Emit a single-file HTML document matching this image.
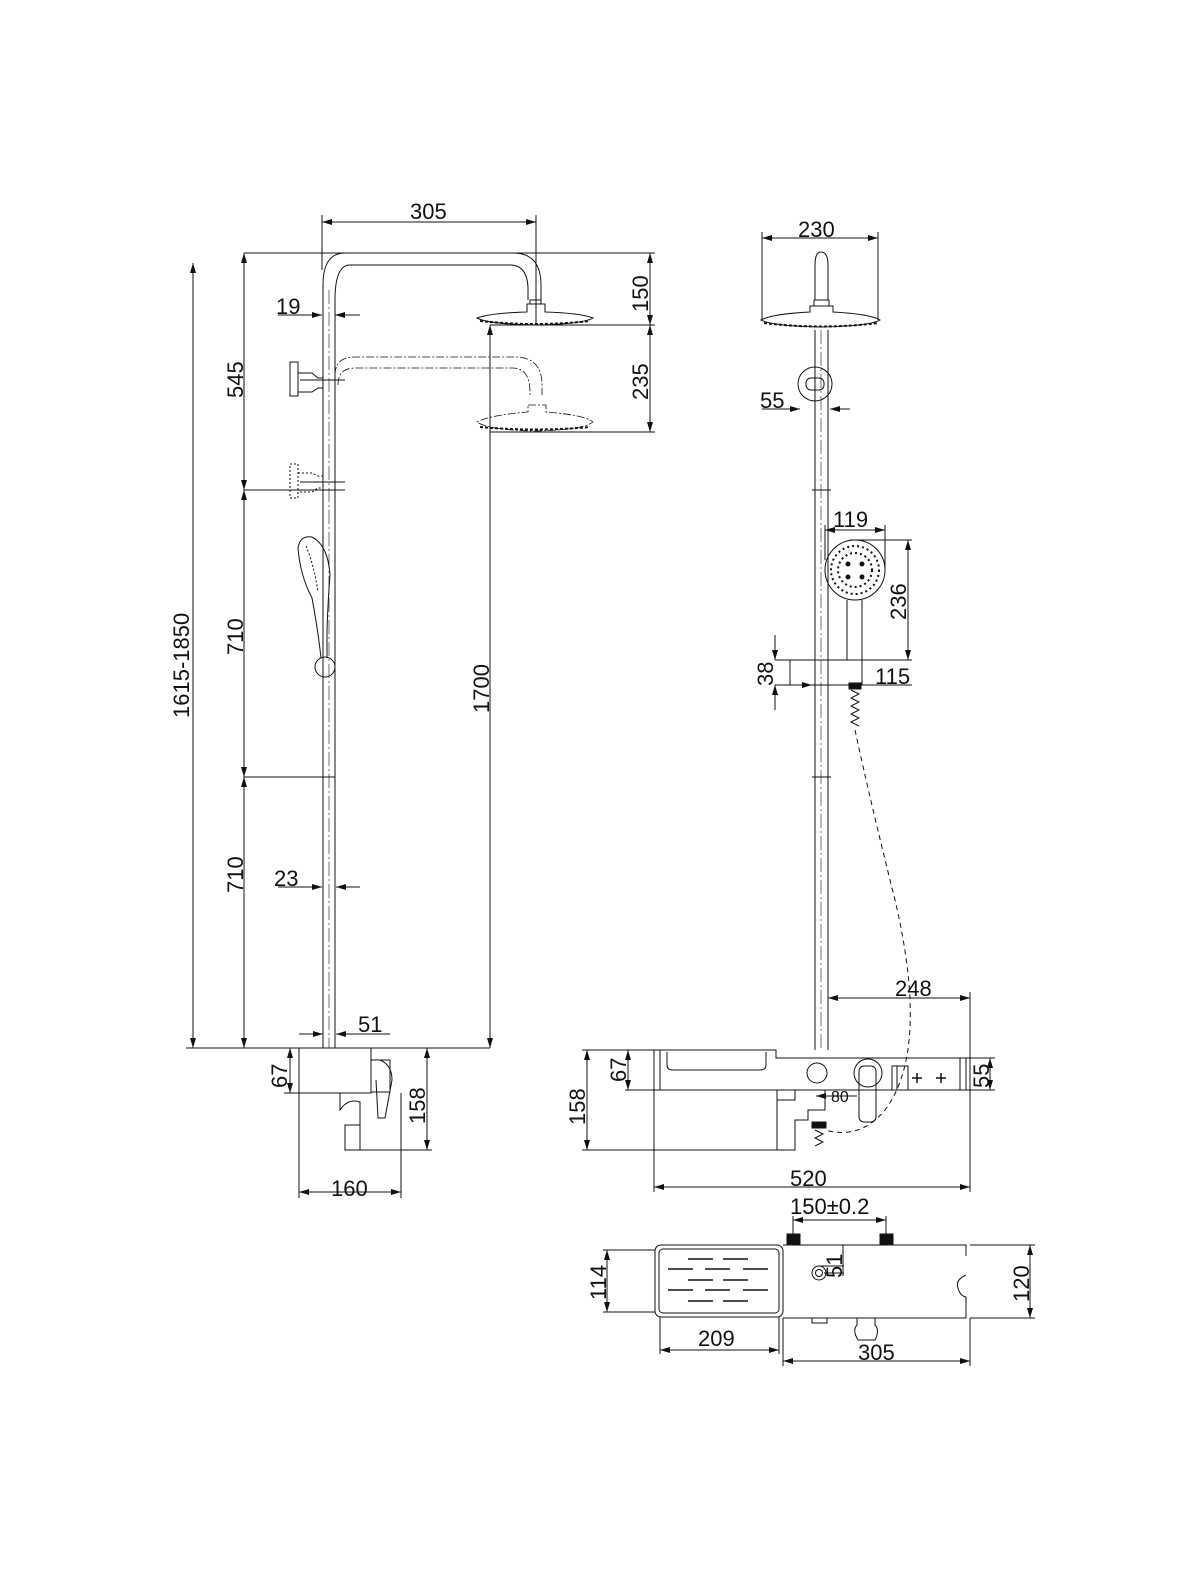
<!DOCTYPE html>
<html><head><meta charset="utf-8"><style>
html,body{margin:0;padding:0;background:#fff}
svg{display:block}
text{font-family:"Liberation Sans",sans-serif;font-size:22px;fill:#111}
</style></head><body>
<svg width="1200" height="1570" viewBox="0 0 1200 1570" xmlns="http://www.w3.org/2000/svg">
<defs>
<marker id="a" viewBox="0 0 10 6" refX="10" refY="3" markerWidth="10" markerHeight="6" orient="auto-start-reverse" markerUnits="userSpaceOnUse"><path d="M0,0L10,3L0,6z" fill="#111"/></marker>
</defs>
<g stroke="#111" stroke-width="1" fill="none">
<line x1="322" y1="222" x2="536" y2="222" marker-start="url(#a)" marker-end="url(#a)"/>
<line x1="322" y1="215" x2="322" y2="270"/>
<line x1="536" y1="215" x2="536" y2="325"/>
<line x1="244" y1="253" x2="655" y2="253"/>
<line x1="650" y1="253" x2="650" y2="325" marker-start="url(#a)" marker-end="url(#a)"/>
<line x1="650" y1="325" x2="650" y2="432" marker-start="url(#a)" marker-end="url(#a)"/>
<line x1="490" y1="325" x2="655" y2="325"/>
<line x1="490" y1="432" x2="655" y2="432"/>
<line x1="193" y1="263" x2="193" y2="1048" marker-start="url(#a)" marker-end="url(#a)"/>
<line x1="186" y1="1048" x2="490" y2="1048"/>
<line x1="244" y1="253" x2="244" y2="490" marker-start="url(#a)" marker-end="url(#a)"/>
<line x1="244" y1="490" x2="244" y2="777" marker-start="url(#a)" marker-end="url(#a)"/>
<line x1="244" y1="777" x2="244" y2="1048" marker-start="url(#a)" marker-end="url(#a)"/>
<line x1="244" y1="490" x2="345" y2="490"/>
<line x1="244" y1="777" x2="335" y2="777"/>
<line x1="490" y1="325" x2="490" y2="1048" marker-start="url(#a)" marker-end="url(#a)"/>
<line x1="278" y1="315" x2="322" y2="315" marker-end="url(#a)"/>
<line x1="360" y1="315" x2="335" y2="315" marker-end="url(#a)"/>
<line x1="278" y1="887" x2="322" y2="887" marker-end="url(#a)"/>
<line x1="360" y1="887" x2="336" y2="887" marker-end="url(#a)"/>
<line x1="299" y1="1034" x2="323" y2="1034" marker-end="url(#a)"/>
<line x1="390" y1="1034" x2="336" y2="1034" marker-end="url(#a)"/>
<path d="M323 1048V285Q323 253 345 253H513Q541 253 541 285V300"/>
<path d="M335 1048V300Q335 265 350 265H510Q528 265 528 290V300"/>
<path d="M329 290V1048" stroke-dasharray="14 3 2 3" stroke-width="0.6"/>
<rect x="530" y="300" width="11" height="4"/>
<path d="M527 304H545V312Q580 313 593 318Q583 324 535 325Q488 324 477 318Q490 313 527 312Z"/>
<path d="M480 321Q535 327 590 321" stroke-width="2" stroke-dasharray="3 2"/>
<g stroke-dasharray="8 2 2 2" stroke-width="0.8">
<path d="M335 375Q335 357 355 357H515Q542 357 542 385V395"/>
<path d="M338 385Q338 368 355 368H512Q530 368 530 392V395"/>
<path d="M528 405H546V412Q585 415 593 422Q583 430 535 431Q488 430 477 422Q490 415 528 412Z"/>
</g>
<path d="M480 427Q535 432 590 427" stroke-width="2" stroke-dasharray="3 2"/>
<rect x="290" y="362" width="8" height="34"/>
<path d="M298 373H312L318 378H323V388H318L312 392H298"/>
<line x1="300" y1="380" x2="345" y2="380"/>
<g stroke-dasharray="2 2"><rect x="290" y="464" width="8" height="34"/><path d="M298 473H312L318 476H323V488H318L312 492H298"/></g>
<line x1="300" y1="482" x2="345" y2="482"/>
<path d="M312 537Q300 535 298 548Q300 575 312 598Q318 630 321 658"/>
<path d="M312 537Q328 545 330 575Q328 600 327 630V658"/>
<path d="M306 546Q314 565 318 592" stroke-dasharray="2 2"/>
<circle cx="325" cy="667" r="10"/>
<rect x="299" y="1048" width="72" height="45"/>
<path d="M371 1060H390V1092H371"/>
<path d="M380 1060Q392 1065 392 1080L385 1118H378L376 1080"/>
<path d="M340 1093V1110Q348 1098 360 1102V1125H345V1150H360V1125"/>
<line x1="299" y1="1093" x2="299" y2="1198"/>
<line x1="401" y1="1093" x2="401" y2="1198"/>
<line x1="299" y1="1192" x2="401" y2="1192" marker-start="url(#a)" marker-end="url(#a)"/>
<line x1="390" y1="1048" x2="432" y2="1048"/>
<line x1="345" y1="1150" x2="432" y2="1150"/>
<line x1="427" y1="1048" x2="427" y2="1150" marker-start="url(#a)" marker-end="url(#a)"/>
<line x1="290" y1="1048" x2="290" y2="1093" marker-start="url(#a)" marker-end="url(#a)"/>
<line x1="284" y1="1093" x2="299" y2="1093"/>

<line x1="762" y1="238" x2="878" y2="238" marker-start="url(#a)" marker-end="url(#a)"/>
<line x1="762" y1="232" x2="762" y2="320"/>
<line x1="878" y1="232" x2="878" y2="320"/>
<path d="M815 300V265Q815 252 821 252Q828 252 828 265V300"/>
<rect x="814" y="300" width="15" height="6"/>
<path d="M810 306H833V312Q870 314 880 320Q870 326 821 327Q772 326 761 320Q772 314 810 312Z"/>
<path d="M764 323Q821 330 878 323" stroke-width="2" stroke-dasharray="3 2"/>
<path d="M815 330V1050M828 330V1050"/>
<line x1="821" y1="330" x2="821" y2="1050" stroke-dasharray="14 3 2 3" stroke-width="0.6"/>
<line x1="812" y1="490" x2="831" y2="490"/>
<line x1="812" y1="777" x2="831" y2="777"/>
<circle cx="815" cy="384" r="17"/>
<rect x="806" y="378" width="18" height="12" rx="5"/>
<line x1="762" y1="409" x2="800" y2="409" marker-end="url(#a)"/>
<line x1="850" y1="409" x2="830" y2="409" marker-end="url(#a)"/>
<line x1="825" y1="530" x2="885" y2="530" marker-start="url(#a)" marker-end="url(#a)"/>
<line x1="825" y1="525" x2="825" y2="560"/>
<line x1="885" y1="525" x2="885" y2="570"/>
<line x1="850" y1="540" x2="912" y2="540"/>
<line x1="860" y1="660" x2="912" y2="660"/>
<line x1="908" y1="540" x2="908" y2="660" marker-start="url(#a)" marker-end="url(#a)"/>
<circle cx="855" cy="570" r="30"/>
<g fill="#111" stroke="none">
<circle cx="848" cy="564" r="2.5"/><circle cx="862" cy="564" r="2.5"/><circle cx="848" cy="577" r="2.5"/><circle cx="862" cy="577" r="2.5"/>
</g>
<circle cx="855" cy="570" r="17" stroke-dasharray="2 3" stroke-width="2"/>
<circle cx="855" cy="570" r="24" stroke-dasharray="2 3" stroke-width="2"/>
<path d="M847 600V660H862V600"/>
<path d="M790 660H862V685H790Z"/>
<line x1="775" y1="660" x2="790" y2="660"/>
<line x1="775" y1="685" x2="790" y2="685"/>
<line x1="775" y1="635" x2="775" y2="660" marker-end="url(#a)"/>
<line x1="775" y1="710" x2="775" y2="685" marker-end="url(#a)"/>
<line x1="862" y1="685" x2="912" y2="685"/>
<line x1="800" y1="685" x2="812" y2="685" marker-end="url(#a)"/>
<rect x="849" y="683" width="12" height="6" fill="#111"/>
<path d="M851 690L859 694L851 698L859 702L851 706L859 710L851 714L859 718L851 722L859 726"/>
<path d="M855 730Q870 800 895 900Q930 1050 885 1110Q860 1140 825 1130" stroke-dasharray="5 4"/>
<line x1="828" y1="998" x2="970" y2="998" marker-start="url(#a)" marker-end="url(#a)"/>
<line x1="970" y1="992" x2="970" y2="1192"/>
<path d="M654 1050H776V1058H966V1090H654Z"/>
<line x1="660" y1="1050" x2="660" y2="1090"/>
<path d="M667 1052V1065Q667 1070 673 1070H760Q766 1070 766 1065V1052"/>
<circle cx="817" cy="1073" r="10"/>
<circle cx="868" cy="1073" r="14"/>
<rect x="859" y="1066" width="17" height="56" rx="5"/>
<rect x="892" y="1066" width="16" height="24"/>
<line x1="897" y1="1066" x2="897" y2="1090"/>
<g stroke-width="1.5"><path d="M912 1078h10M917 1073v10M936 1078h10M941 1073v10"/></g>
<line x1="960" y1="1058" x2="960" y2="1090"/>
<path d="M777 1090V1100H795V1090M777 1100V1150H795V1120H808V1110H825V1090"/>
<rect x="812" y="1122" width="14" height="6" fill="#111"/>
<path d="M815 1130L823 1134L815 1138L823 1142L815 1146"/>
<line x1="816" y1="1096" x2="857" y2="1096" marker-start="url(#a)"/>
<line x1="654" y1="1090" x2="654" y2="1192"/>
<line x1="654" y1="1187" x2="970" y2="1187" marker-start="url(#a)" marker-end="url(#a)"/>
<line x1="582" y1="1050" x2="654" y2="1050"/>
<line x1="582" y1="1150" x2="777" y2="1150"/>
<line x1="587" y1="1050" x2="587" y2="1150" marker-start="url(#a)" marker-end="url(#a)"/>
<line x1="625" y1="1090" x2="654" y2="1090"/>
<line x1="628" y1="1050" x2="628" y2="1090" marker-start="url(#a)" marker-end="url(#a)"/>
<line x1="966" y1="1058" x2="995" y2="1058"/>
<line x1="966" y1="1090" x2="995" y2="1090"/>
<line x1="990" y1="1058" x2="990" y2="1090" marker-start="url(#a)" marker-end="url(#a)"/>
<line x1="793" y1="1220" x2="886" y2="1220" marker-start="url(#a)" marker-end="url(#a)"/>
<line x1="793" y1="1216" x2="793" y2="1234"/>
<line x1="886" y1="1216" x2="886" y2="1234"/>
<rect x="787" y="1234" width="13" height="11" fill="#111"/>
<rect x="880" y="1234" width="13" height="11" fill="#111"/>
<rect x="655" y="1245" width="128" height="72" rx="6"/>
<rect x="659" y="1249" width="120" height="64" rx="4"/>
<g stroke-width="1.5">
<path d="M688 1259h25M723 1259h25M668 1269h25M705 1269h25M743 1269h25M688 1280h25M723 1280h25M668 1290h25M705 1290h25M743 1290h25M688 1301h25M723 1301h25"/>
</g>
<path d="M783 1245H966V1256M966 1275Q955 1280 958 1288Q960 1296 966 1297V1318H783"/>
<line x1="970" y1="1245" x2="1035" y2="1245"/>
<line x1="970" y1="1318" x2="1035" y2="1318"/>
<line x1="1030" y1="1245" x2="1030" y2="1318" marker-start="url(#a)" marker-end="url(#a)"/>
<circle cx="819" cy="1273" r="7"/><circle cx="819" cy="1273" r="3.5"/>
<line x1="819" y1="1266" x2="844" y2="1266"/>
<line x1="824" y1="1273" x2="844" y2="1273"/>
<line x1="843" y1="1245" x2="843" y2="1276"/>
<line x1="603" y1="1250" x2="655" y2="1250"/>
<line x1="603" y1="1312" x2="655" y2="1312"/>
<line x1="607" y1="1250" x2="607" y2="1312" marker-start="url(#a)" marker-end="url(#a)"/>
<rect x="812" y="1318" width="15" height="5"/>
<path d="M857 1318V1325Q852 1330 858 1340H875Q880 1330 875 1325V1318"/>
<line x1="660" y1="1317" x2="660" y2="1354"/>
<line x1="779" y1="1317" x2="779" y2="1354"/>
<line x1="660" y1="1350" x2="779" y2="1350" marker-start="url(#a)" marker-end="url(#a)"/>
<line x1="783" y1="1318" x2="783" y2="1366"/>
<line x1="970" y1="1318" x2="970" y2="1366"/>
<line x1="783" y1="1361" x2="970" y2="1361" marker-start="url(#a)" marker-end="url(#a)"/>
</g>
<text x="410" y="219">305</text>
<text x="276" y="314">19</text>
<text x="274" y="886">23</text>
<text x="358" y="1032">51</text>
<text x="331" y="1196">160</text>
<text transform="translate(189,718) rotate(-90)">1615-1850</text>
<text transform="translate(243,398) rotate(-90)">545</text>
<text transform="translate(243,655) rotate(-90)">710</text>
<text transform="translate(243,893) rotate(-90)">710</text>
<text transform="translate(489,713) rotate(-90)">1700</text>
<text transform="translate(648,312) rotate(-90)">150</text>
<text transform="translate(648,400) rotate(-90)">235</text>
<text transform="translate(287,1088) rotate(-90)">67</text>
<text transform="translate(425,1124) rotate(-90)">158</text>
<text x="798" y="237">230</text>
<text x="760" y="408">55</text>
<text x="833" y="527">119</text>
<text transform="translate(906,620) rotate(-90)">236</text>
<text transform="translate(773,686) rotate(-90)">38</text>
<text x="875" y="684">115</text>
<text x="895" y="996">248</text>
<text x="831" y="1102" style="font-size:16px">80</text>
<text x="790" y="1186">520</text>
<text transform="translate(585,1125) rotate(-90)">158</text>
<text transform="translate(626,1082) rotate(-90)">67</text>
<text transform="translate(989,1088) rotate(-90)">55</text>
<text x="790" y="1214">150±0.2</text>
<text transform="translate(842,1278) rotate(-90)">51</text>
<text transform="translate(606,1300) rotate(-90)">114</text>
<text transform="translate(1029,1302) rotate(-90)">120</text>
<text x="698" y="1346">209</text>
<text x="858" y="1360">305</text>
</svg>
</body></html>
